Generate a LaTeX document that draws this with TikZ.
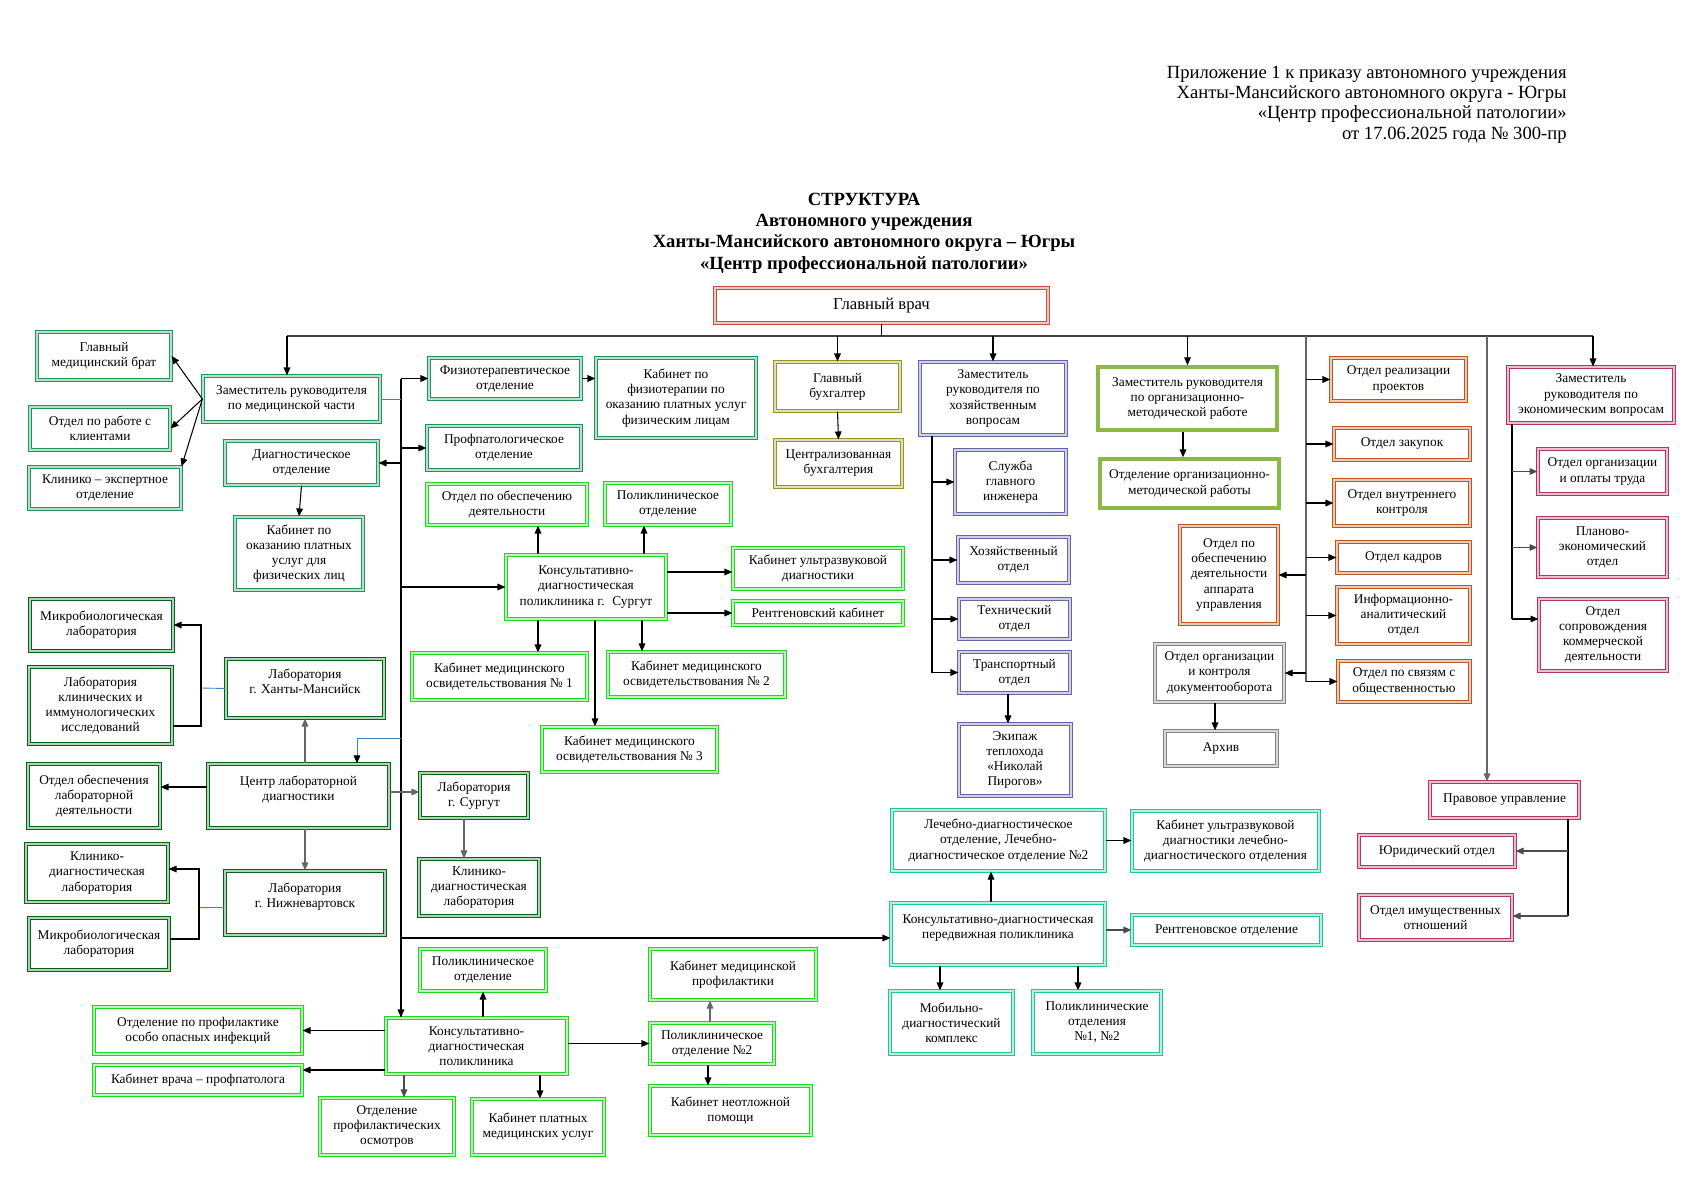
\documentclass[tikz,border=0pt]{standalone}
\usepackage{fontspec}
\setmainfont{Liberation Serif}
\usetikzlibrary{arrows.meta}

\definecolor{vrach}{RGB}{192,80,60}
\definecolor{medgr}{RGB}{30,150,90}
\definecolor{labgr}{RGB}{0,100,20}
\definecolor{polgr}{RGB}{30,215,30}
\definecolor{buhol}{RGB}{150,150,40}
\definecolor{hozpu}{RGB}{100,100,170}
\definecolor{orggr}{RGB}{140,185,70}
\definecolor{apor}{RGB}{190,85,30}
\definecolor{docgr}{RGB}{130,130,130}
\definecolor{ekpk}{RGB}{180,50,100}
\definecolor{mobtl}{RGB}{30,200,150}
\definecolor{blln}{RGB}{60,130,190}

\newcommand\boxfont{\fontsize{7.6}{8.6}\selectfont}

\tikzset{
  bx/.style={draw=#1, double=#1!30, double distance=1.1pt, line width=0.7pt,
    align=center, inner sep=1pt, font=\boxfont},
  orgbx/.style={draw=orggr, line width=2pt, align=center, inner sep=1pt, font=\boxfont},
  sz/.style 2 args={minimum width=#1*0.02cm, minimum height=#2*0.02cm},
  ln/.style={line width=0.6pt, -{Triangle[length=4.5pt,width=3.8pt]}},
  pl/.style={line width=0.6pt},
  blue/.style={line width=0.5pt, draw=blln},
}

\begin{document}
\begin{tikzpicture}[x=0.02cm, y=-0.02cm]
\useasboundingbox (0,0) rectangle (1693,1196);

% шапка
\node (prilozh) at (1567,104.5) [anchor=east, align=right, inner sep=0pt, font=\fontsize{10.6}{11.6}\selectfont]{Приложение 1 к приказу автономного учреждения\\ Ханты-Мансийского автономного округа - Югры\\ «Центр профессиональной патологии»\\ от 17.06.2025 года № 300-пр};
\node (titul) at (864,233) [align=center, font=\bfseries\fontsize{10.6}{12.2}\selectfont]{СТРУКТУРА\\ Автономного учреждения\\ Ханты-Мансийского автономного округа – Югры\\ «Центр профессиональной патологии»};

\node (gvrach) at (881.5,305.5) [bx=vrach, sz={333}{35}, font=\fontsize{9.5}{11}\selectfont]{Главный врач};

% медицинская часть
\node (glmedbrat) at (104,356) [bx=medgr, sz={134}{48}]{Главный\\ медицинский брат};
\node (klienty) at (100,428.5) [bx=medgr, sz={140}{43}]{Отдел по работе с\\ клиентами};
\node (klinexp) at (105,488) [bx=medgr, sz={152}{42}]{Клинико – экспертное\\ отделение};
\node (zammed) at (291.5,399) [bx=medgr, sz={177}{46}]{Заместитель руководителя\\ по медицинской части};
\node (diagn) at (301.5,463) [bx=medgr, sz={153}{44}]{Диагностическое\\ отделение};
\node (platfiz) at (299,553.5) [bx=medgr, sz={128}{73}]{Кабинет по\\ оказанию платных\\ услуг для\\ физических лиц};
\node (fizio) at (505,378.5) [bx=medgr, sz={152}{41}]{Физиотерапевтическое\\ отделение};
\node (fiziokab) at (676,398) [bx=medgr, sz={160}{80}]{Кабинет по\\ физиотерапии по\\ оказанию платных услуг\\ физическим лицам};
\node (profpat) at (504,448) [bx=medgr, sz={154}{44}]{Профпатологическое\\ отделение};

% бухгалтерия
\node (glbuh) at (837.5,386.5) [bx=buhol, sz={125}{49}]{Главный\\ бухгалтер};
\node (centrbuh) at (838.5,463.5) [bx=buhol, sz={127}{47}]{Централизованная\\ бухгалтерия};

% поликлиника г. Сургут
\node (obespsur) at (507,504.5) [bx=polgr, sz={160}{41}]{Отдел по обеспечению\\ деятельности};
\node (polsur) at (668,504) [bx=polgr, sz={126}{42}]{Поликлиническое\\ отделение};
\node (kdpsur) at (586,587) [bx=polgr, sz={160}{64}]{Консультативно-\\ диагностическая\\ поликлиника г.~ Сургут};
\node (uzisur) at (818,568.5) [bx=polgr, sz={170}{41}]{Кабинет ультразвуковой\\ диагностики};
\node (rentkab) at (818,613) [bx=polgr, sz={170}{24}]{Рентгеновский кабинет};
\node (osv1) at (499.5,676.5) [bx=polgr, sz={175}{47}]{Кабинет медицинского\\ освидетельствования № 1};
\node (osv2) at (696.5,674.5) [bx=polgr, sz={177}{45}]{Кабинет медицинского\\ освидетельствования № 2};
\node (osv3) at (629.5,749.5) [bx=polgr, sz={175}{45}]{Кабинет медицинского\\ освидетельствования № 3};

% лаборатории
\node (mikro1) at (101.5,625) [bx=labgr, sz={143}{52}]{Микробиологическая\\ лаборатория};
\node (labklin) at (100.5,705.5) [bx=labgr, sz={143}{77}]{Лаборатория\\ клинических и\\ иммунологических\\ исследований};
\node (labhm) at (305,688.5) [bx=labgr, sz={158}{59}]{Лаборатория\\ г. Ханты-Мансийск\\ \mbox{}};
\node (centrlab) at (298.5,796) [bx=labgr, sz={181}{64}]{Центр лабораторной\\ диагностики\\ \mbox{}};
\node (otdlab) at (94,796) [bx=labgr, sz={132}{64}]{Отдел обеспечения\\ лабораторной\\ деятельности};
\node (labnv) at (305,903) [bx=labgr, sz={160}{64}]{Лаборатория\\ г. Нижневартовск\\ \mbox{}};
\node (kdlnv) at (97,873) [bx=labgr, sz={142}{58}]{Клинико-\\ диагностическая\\ лаборатория};
\node (mikro2) at (99,944) [bx=labgr, sz={140}{52}]{Микробиологическая\\ лаборатория};
\node (labsur) at (474,795.5) [bx=labgr, sz={108}{45}]{Лаборатория\\ г. Сургут};
\node (kdlsur) at (479,887.5) [bx=labgr, sz={120}{57}]{Клинико-\\ диагностическая\\ лаборатория};

% консультативно-диагностическая поликлиника
\node (polbot) at (483,970) [bx=polgr, sz={126}{42}]{Поликлиническое\\ отделение};
\node (ooi) at (198,1030.5) [bx=polgr, sz={208}{47}]{Отделение по профилактике\\ особо опасных инфекций};
\node (kabvr) at (198,1080) [bx=polgr, sz={208}{30}]{Кабинет врача – профпатолога};
\node (kdpbot) at (476.5,1046) [bx=polgr, sz={181}{56}]{Консультативно-\\ диагностическая\\ поликлиника};
\node (osmotr) at (387,1126.5) [bx=polgr, sz={134}{57}]{Отделение\\ профилактических\\ осмотров};
\node (platbot) at (538,1127) [bx=polgr, sz={132}{56}]{Кабинет платных\\ медицинских услуг};
\node (medprof) at (733,974.5) [bx=polgr, sz={166}{51}]{Кабинет медицинской\\ профилактики};
\node (pol2) at (712,1043.5) [bx=polgr, sz={124}{41}]{Поликлиническое\\ отделение №2};
\node (neotl) at (730.5,1110.5) [bx=polgr, sz={161}{49}]{Кабинет неотложной\\ помощи};

% хозяйственные вопросы
\node (zamhoz) at (993,398.5) [bx=hozpu, sz={146}{73}]{Заместитель\\ руководителя по\\ хозяйственным\\ вопросам};
\node (glinzh) at (1010.5,482) [bx=hozpu, sz={111}{64}]{Служба\\ главного\\ инженера};
\node (hozotd) at (1013.5,560) [bx=hozpu, sz={111}{46}]{Хозяйственный\\ отдел};
\node (tehotd) at (1014.5,619) [bx=hozpu, sz={111}{40}]{Технический\\ отдел};
\node (transotd) at (1014.5,672.5) [bx=hozpu, sz={111}{41}]{Транспортный\\ отдел};
\node (ekipazh) at (1015,760) [bx=hozpu, sz={112}{72}]{Экипаж\\ теплохода\\ «Николай\\ Пирогов»};

% передвижная поликлиника
\node (ldo) at (998.5,840.5) [bx=mobtl, sz={213}{61}]{Лечебно-диагностическое\\ отделение, Лечебно-\\ диагностическое отделение №2};
\node (uzildo) at (1225.5,841) [bx=mobtl, sz={187}{60}]{Кабинет ультразвуковой\\ диагностики лечебно-\\ диагностического отделения};
\node (kdpp) at (998,934) [bx=mobtl, sz={214}{62}]{Консультативно-диагностическая\\ передвижная поликлиника\\ \mbox{}};
\node (rentotd) at (1226.5,930) [bx=mobtl, sz={189}{30}]{Рентгеновское отделение};
\node (mobkompl) at (951.5,1022.5) [bx=mobtl, sz={123}{63}]{Мобильно-\\ диагностический\\ комплекс};
\node (polotd12) at (1097,1022.5) [bx=mobtl, sz={128}{63}]{Поликлинические\\ отделения\\ №1, №2};

% организационно-методическая работа
\node (zamorg) at (1187.5,398.5) [orgbx, sz={179}{63}]{Заместитель руководителя\\ по организационно-\\ методической работе};
\node (otdorg) at (1189.5,483.5) [orgbx, sz={179}{49}]{Отделение организационно-\\ методической работы};

% отделы при главном враче
\node (apparat) at (1229,575) [bx=apor, sz={98}{98}]{Отдел по\\ обеспечению\\ деятельности\\ аппарата\\ управления};
\node (dokum) at (1219.5,673) [bx=docgr, sz={129}{58}]{Отдел организации\\ и контроля\\ документооборота};
\node (arhiv) at (1221,748.5) [bx=docgr, sz={112}{35}]{Архив};
\node (realiz) at (1398.5,379.5) [bx=apor, sz={135}{43}]{Отдел реализации\\ проектов};
\node (zakup) at (1402,444) [bx=apor, sz={136}{32}]{Отдел закупок};
\node (vnutr) at (1402,503) [bx=apor, sz={136}{46}]{Отдел внутреннего\\ контроля};
\node (kadry) at (1403.5,557.5) [bx=apor, sz={133}{31}]{Отдел кадров};
\node (inform) at (1403.5,615.5) [bx=apor, sz={133}{57}]{Информационно-\\ аналитический\\ отдел};
\node (svyazi) at (1404,681.5) [bx=apor, sz={132}{41}]{Отдел по связям с\\ общественностью};

% экономические вопросы
\node (zamekon) at (1591,395) [bx=ekpk, sz={166}{56}]{Заместитель\\ руководителя по\\ экономическим вопросам};
\node (oplata) at (1602.5,471.5) [bx=ekpk, sz={129}{45}]{Отдел организации\\ и оплаты труда};
\node (planek) at (1602.5,547.5) [bx=ekpk, sz={129}{59}]{Планово-\\ экономический\\ отдел};
\node (kommerc) at (1603,635) [bx=ekpk, sz={128}{72}]{Отдел\\ сопровождения\\ коммерческой\\ деятельности};
\node (pravo) at (1504.5,800) [bx=ekpk, sz={149}{36}]{Правовое управление};
\node (yurid) at (1437,851) [bx=ekpk, sz={156}{32}]{Юридический отдел};
\node (imusch) at (1435.5,917.5) [bx=ekpk, sz={153}{45}]{Отдел имущественных\\ отношений};

% шина
\coordinate (busL) at (287,336);
\coordinate (busR) at (1593,336);
\coordinate (mv) at (401,0);
\coordinate (cl) at (357,738);
\coordinate (hv) at (932,0);
\coordinate (ov) at (1306,336);
\coordinate (ev) at (1512,0);
\coordinate (pv) at (1568,0);
\draw[pl, black!75] (busL) -- (busR);
\draw[pl] (gvrach.south) -- (gvrach.south |- busL);
\draw[ln] (busL) -- (busL |- zammed.north);
\draw[ln] (glbuh.north |- busL) -- (glbuh.north);
\draw[ln] (zamhoz.north |- busL) -- (zamhoz.north);
\draw[ln] (zamorg.north |- busL) -- (zamorg.north);
\draw[ln] (busR) -- (busR |- zamekon.north);
\draw[ln, black!60] (1487,336) -- (pravo.north -| 1487,0);

% медицинская часть
\draw[ln] (zammed.west) -- (glmedbrat.east);
\draw[ln] (zammed.west) -- (klienty.east);
\draw[ln] (zammed.west) -- (klinexp.north east);
\draw[ln] (diagn.south) -- (platfiz.north);
\draw[pl] (mv |- fizio.west) -- (mv |- kdpbot.north);
\draw[ln] (mv |- fizio.west) -- (fizio.west);
\draw[ln] (mv |- profpat.west) -- (profpat.west);
\draw[ln] (mv |- diagn.east) -- (diagn.east);
\draw[ln] (mv |- kdpsur.west) -- (kdpsur.west);
\draw[ln] (mv |- 0,938) -- (kdpp.west |- 0,938);
\draw[ln] (mv |- 0,938) -- (mv |- kdpbot.north);
\draw[blue] (zammed.east) -- (mv |- zammed.east);
\draw[blue, -{Triangle[length=4.5pt,width=3.8pt,color=black]}] (mv |- cl) -- (cl) -- (cl |- centrlab.north);
\draw[ln] (fizio.east) -- (fiziokab.west |- fizio.east);
\draw[ln] (glbuh.south) -- (centrbuh.north);

% поликлиника г. Сургут
\draw[ln] (kdpsur.north -| 538,0) -- (obespsur.south -| 538,0);
\draw[ln] (kdpsur.north -| 644,0) -- (polsur.south -| 644,0);
\draw[ln] (kdpsur.east |- 0,572) -- (uzisur.west |- 0,572);
\draw[ln] (kdpsur.east |- rentkab.west) -- (rentkab.west);
\draw[ln] (kdpsur.south -| 538,0) -- (osv1.north -| 538,0);
\draw[ln] (kdpsur.south -| 642,0) -- (osv2.north -| 642,0);
\draw[ln] (kdpsur.south -| 595,0) -- (osv3.north -| 595,0);

% лаборатории
\draw[ln, black!60] (centrlab.north -| labhm.south) -- (labhm.south);
\draw[ln, black!60] (centrlab.south -| labnv.north) -- (labnv.north);
\draw[ln] (centrlab.west |- 0,787) -- (otdlab.east |- 0,787);
\draw[ln, black!60] (centrlab.east |- 0,792) -- (labsur.west |- 0,792);
\draw[ln, black!60] (labsur.south -| 464,0) -- (kdlsur.north -| 464,0);
\draw[blue] (labhm.west) -- (201,688);
\draw[ln, {Triangle[length=4.5pt,width=3.8pt]}-] (mikro1.east) -- (201,625) -- (201,726) -- (labklin.east |- 0,726);
\draw[blue] (labnv.west |- 0,907) -- (199,907);
\draw[ln, {Triangle[length=4.5pt,width=3.8pt]}-] (kdlnv.east |- 0,869) -- (199,869) -- (199,939) -- (mikro2.east |- 0,939);

% консультативно-диагностическая поликлиника
\draw[ln] (kdpbot.north -| polbot.south) -- (polbot.south);
\draw[ln] (kdpbot.west |- ooi.east) -- (ooi.east);
\draw[ln] (kdpbot.west |- 0,1070) -- (kabvr.east |- 0,1070);
\draw[ln, black!70] (kdpbot.south -| 404,0) -- (osmotr.north -| 404,0);
\draw[ln] (kdpbot.south -| 540,0) -- (platbot.north -| 540,0);
\draw[ln] (kdpbot.east |- pol2.west) -- (pol2.west);
\draw[ln, black!60] (pol2.north -| 710,0) -- (medprof.south -| 710,0);
\draw[ln] (pol2.south -| 708,0) -- (neotl.north -| 708,0);

% хозяйственные вопросы
\draw[pl] (hv |- zamhoz.south) -- (hv |- transotd.west);
\draw[ln] (hv |- glinzh.west) -- (glinzh.west);
\draw[ln] (hv |- hozotd.west) -- (hozotd.west);
\draw[ln] (hv |- tehotd.west) -- (tehotd.west);
\draw[ln] (hv |- transotd.west) -- (transotd.west);
\draw[ln] (transotd.south -| 1008,0) -- (ekipazh.north -| 1008,0);

% передвижная поликлиника
\draw[ln] (kdpp.north -| 991,0) -- (ldo.south -| 991,0);
\draw[ln] (ldo.east) -- (uzildo.west |- ldo.east);
\draw[ln, black!70] (kdpp.east |- rentotd.west) -- (rentotd.west);
\draw[ln] (kdpp.south -| 940,0) -- (mobkompl.north -| 940,0);
\draw[ln] (kdpp.south -| 1078,0) -- (polotd12.north -| 1078,0);

% организационно-методическая работа
\draw[ln] (zamorg.south -| 1183,0) -- (otdorg.north -| 1183,0);

% отделы при главном враче
\draw[pl, black!60] (ov) -- (ov |- svyazi.west);
\draw[ln] (ov |- realiz.west) -- (realiz.west);
\draw[ln] (ov |- zakup.west) -- (zakup.west);
\draw[ln] (ov |- vnutr.west) -- (vnutr.west);
\draw[ln] (ov |- kadry.west) -- (kadry.west);
\draw[ln] (ov |- inform.west) -- (inform.west);
\draw[ln] (ov |- svyazi.west) -- (svyazi.west);
\draw[ln] (ov |- apparat.east) -- (apparat.east);
\draw[ln] (ov |- dokum.east) -- (dokum.east);
\draw[ln] (dokum.south -| 1215,0) -- (arhiv.north -| 1215,0);

% экономические вопросы
\draw[pl] (ev |- zamekon.south) -- (ev |- 0,619);
\draw[ln, black!70] (ev |- oplata.west) -- (oplata.west);
\draw[ln, black!70] (ev |- planek.west) -- (planek.west);
\draw[ln] (ev |- 0,619) -- (kommerc.west |- 0,619);
\draw[pl] (pv |- pravo.south) -- (pv |- 0,916);
\draw[ln, black!70] (pv |- 0,851) -- (yurid.east |- 0,851);
\draw[ln, black!70] (pv |- 0,916) -- (imusch.east |- 0,916);
\end{tikzpicture}
\end{document}
